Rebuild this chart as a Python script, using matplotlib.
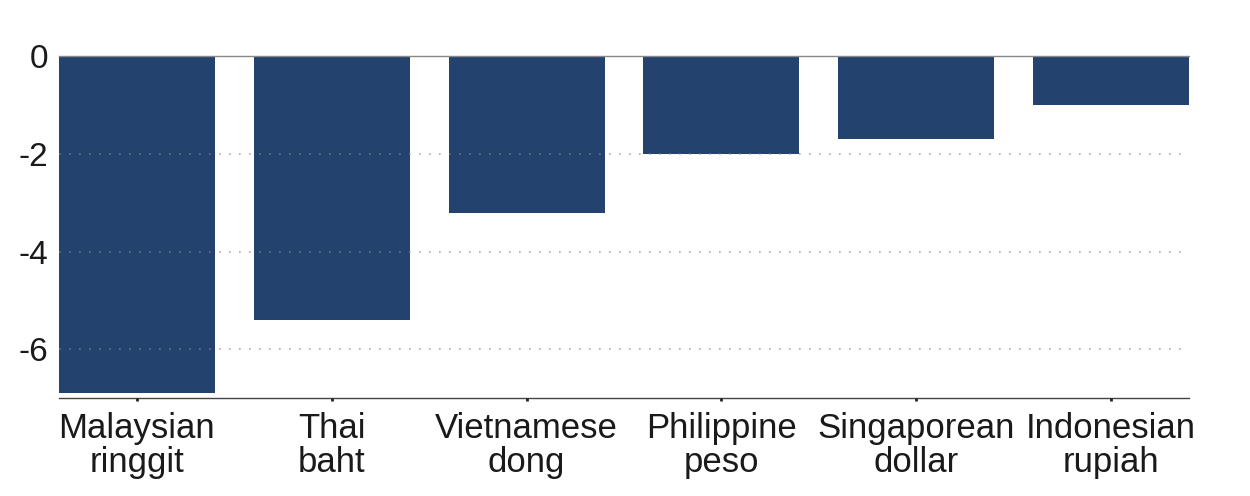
import numpy as np
import matplotlib.pyplot as plt

plt.rcParams['font.family'] = ['Liberation Sans', 'DejaVu Sans']

# Currencies and their change (%)
currencies = ['Malaysian\nringgit', 'Thai\nbaht', 'Vietnamese\ndong',
              'Philippine\npeso', 'Singaporean\ndollar', 'Indonesian\nrupiah']
change = [-6.9, -5.4, -3.2, -2.0, -1.7, -1.0]
yticks = [0, -2, -4, -6]

x = np.arange(len(currencies))

fig = plt.figure(figsize=(12.5, 4.96), dpi=100)
ax = fig.add_axes([0.0472, 0.1976, 0.904, 0.6885])

ax.bar(x, change, width=0.8, color='#24426e', zorder=2)

ax.set_xlim(-0.4, len(currencies) - 0.6)
ax.set_ylim(-7, 0)

# Dotted gridlines, drawn faintly over the bars
ax.set_yticks(yticks)
ax.set_yticklabels([str(v) for v in yticks])
ax.yaxis.grid(True, linestyle=(0, (1, 5)), color='#888888', alpha=0.7,
              linewidth=1.2)
ax.set_axisbelow(False)

ax.set_xticks(x)
ax.set_xticklabels(currencies, linespacing=1.05)

for side in ['left', 'right']:
    ax.spines[side].set_visible(False)
ax.spines['top'].set_color('#888888')
ax.spines['top'].set_linewidth(1)
ax.spines['bottom'].set_color('#444444')
ax.spines['bottom'].set_linewidth(1)

ax.tick_params(axis='y', length=0, pad=8, labelsize=24, labelcolor='#1a1a1a')
ax.tick_params(axis='x', length=2, width=2, color='#222222', pad=8,
               labelsize=25, labelcolor='#1a1a1a')

fig.savefig('out.png', dpi=100)
